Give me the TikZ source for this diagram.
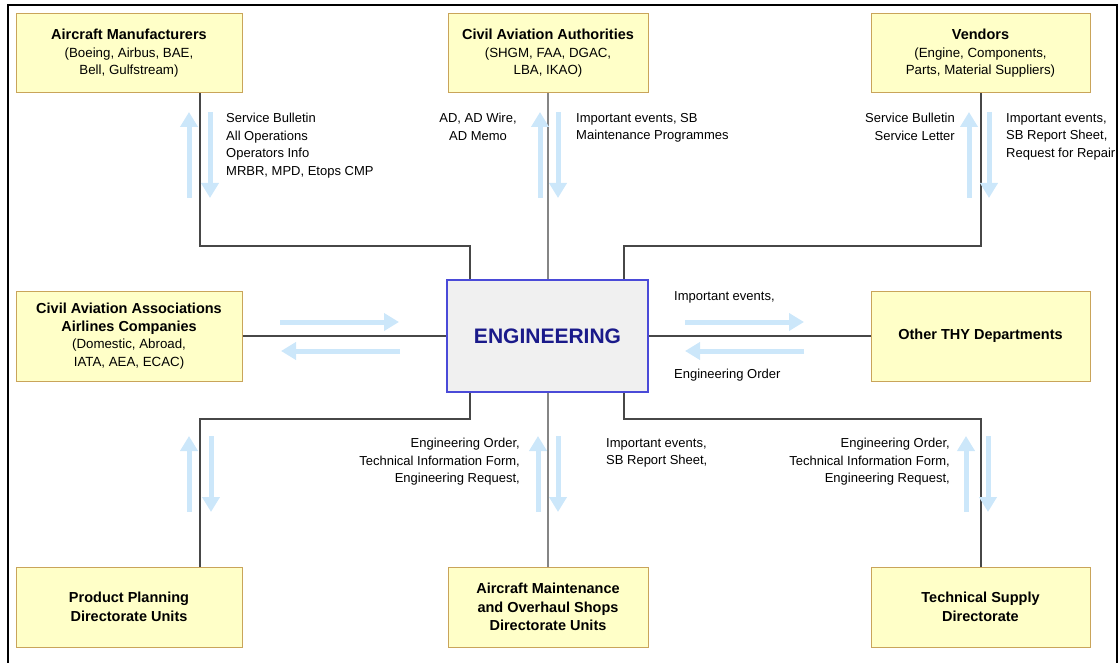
\documentclass[tikz,border=0pt]{standalone}
\usepackage{fontspec}
\setmainfont{Liberation Sans}
\usepackage{tikz}
\usetikzlibrary{arrows.meta}
\definecolor{boxfill}{HTML}{FFFFC8}
\definecolor{boxline}{HTML}{C9A45A}
\definecolor{engfill}{HTML}{F0F0F0}
\definecolor{engline}{HTML}{4A4AD8}
\definecolor{engtext}{HTML}{1A1A8A}
\definecolor{flow}{HTML}{CCE7FA}
\definecolor{wire}{HTML}{474747}
\definecolor{midwire}{HTML}{858585}

\begin{document}
\begin{tikzpicture}[x=1pt, y=-1pt,
    unit/.style={draw=boxline, fill=boxfill, line width=1pt, align=center, inner sep=0pt,
      font=\fontsize{13.3}{17.5}\selectfont},
    boldunit/.style={unit, font=\bfseries\fontsize{14.5}{19}\selectfont},
    link/.style={draw=wire, line width=2pt},
    flowarrow/.style={draw=flow, line width=5pt, -{Triangle[width=17pt,length=15pt]}},
    info/.style={inner sep=0pt, font=\fontsize{13}{17.5}\selectfont}]
    \useasboundingbox (0,0) rectangle (1119,663);
    \draw[line width=2.5pt] (8,663) -- (8,5) -- (1117,5) -- (1117,663);

    \node[unit, minimum width=226pt, minimum height=79pt] (mfr) at (129,53.5)
      {{\bfseries\fontsize{14.5}{17.5}\selectfont Aircraft Manufacturers}\\(Boeing, Airbus, BAE,\\Bell, Gulfstream)};
    \node[unit, minimum width=200pt, minimum height=79pt] (caa) at (548,53.5)
      {{\bfseries\fontsize{14.5}{17.5}\selectfont Civil Aviation Authorities}\\(SHGM, FAA, DGAC,\\LBA, IKAO)};
    \node[unit, minimum width=219pt, minimum height=79pt] (ven) at (980.5,53.5)
      {{\bfseries\fontsize{14.5}{17.5}\selectfont Vendors}\\(Engine, Components,\\Parts, Material Suppliers)};
    \node[unit, minimum width=226pt, minimum height=90pt] (assoc) at (129,336)
      {{\bfseries\fontsize{14.5}{17.5}\selectfont Civil Aviation Associations}\\{\bfseries\fontsize{14.5}{17.5}\selectfont Airlines Companies}\\(Domestic, Abroad,\\IATA, AEA, ECAC)};
    \node[draw=engline, fill=engfill, line width=1.5pt, minimum width=201pt, minimum height=112pt,
      text=engtext, font=\bfseries\fontsize{21}{24}\selectfont] (eng) at (547.5,336) {ENGINEERING};
    \node[boldunit, minimum width=219pt, minimum height=90pt] (thy) at (980.5,336) {Other THY Departments};
    \node[boldunit, minimum width=226pt, minimum height=80pt] (pp) at (129,607)
      {Product Planning\\Directorate Units};
    \node[boldunit, minimum width=200pt, minimum height=80pt, font=\bfseries\fontsize{14.5}{18.5}\selectfont] (am) at (548,607)
      {Aircraft Maintenance\\and Overhaul Shops\\Directorate Units};
    \node[boldunit, minimum width=219pt, minimum height=80pt] (ts) at (980.5,607)
      {Technical Supply\\Directorate};

    \draw[link] ([xshift=71pt]mfr.south) -- ++(0,152) -| ([xshift=-77.5pt]eng.north);
    \draw[link, draw=midwire] (caa.south) -- (caa.south |- eng.north);
    \draw[link] (ven.south) -- ++(0,152) -| ([xshift=76.5pt]eng.north);
    \draw[link] (assoc) -- (eng);
    \draw[link] (eng) -- (thy);
    \draw[link] ([xshift=-77.5pt]eng.south) -- ++(0,26) -| ([xshift=71pt]pp.north);
    \draw[link, draw=midwire] (eng.south) -- (eng.south |- am.north);
    \draw[link] ([xshift=76.5pt]eng.south) -- ++(0,26) -| (ts.north);

    \draw[flowarrow] (189,198) -- (189,112);
    \draw[flowarrow] (210,112) -- (210,198);
    \draw[flowarrow] (540,198) -- (540,112);
    \draw[flowarrow] (558,112) -- (558,198);
    \draw[flowarrow] (969,198) -- (969,112);
    \draw[flowarrow] (989,112) -- (989,198);
    \draw[flowarrow] (280,322) -- (399,322);
    \draw[flowarrow] (400,351) -- (281,351);
    \draw[flowarrow] (685,322) -- (804,322);
    \draw[flowarrow] (804,351) -- (685,351);
    \draw[flowarrow] (189,512) -- (189,436);
    \draw[flowarrow] (211,436) -- (211,512);
    \draw[flowarrow] (538,512) -- (538,436);
    \draw[flowarrow] (558,436) -- (558,512);
    \draw[flowarrow] (966,512) -- (966,436);
    \draw[flowarrow] (988,436) -- (988,512);

    \node[info, anchor=north west, align=left] (mfrinfo) at (226,113)
      {Service Bulletin\\All Operations\\Operators Info\\MRBR, MPD, Etops CMP};
    \node[info, anchor=north, align=center] (caaup) at (478,113) {AD, AD Wire,\\AD Memo};
    \node[info, anchor=north west, align=left] (caadown) at (576,113)
      {Important events, SB\\Maintenance Programmes};
    \node[info, anchor=north east, align=right] (venup) at (955,113) {Service Bulletin\\Service Letter};
    \node[info, anchor=north west, align=left] (vendown) at (1006,113)
      {Important events,\\SB Report Sheet,\\Request for Repair};
    \node[info, anchor=north west] (thyup) at (674,291) {Important events,};
    \node[info, anchor=north west] (thydown) at (674,369) {Engineering Order};
    \node[info, anchor=north east, align=right] (amup) at (520,438)
      {Engineering Order,\\Technical Information Form,\\Engineering Request,};
    \node[info, anchor=north west, align=left] (amdown) at (606,438) {Important events,\\SB Report Sheet,};
    \node[info, anchor=north east, align=right] (tsup) at (950,438)
      {Engineering Order,\\Technical Information Form,\\Engineering Request,};
  \end{tikzpicture}
\end{document}
